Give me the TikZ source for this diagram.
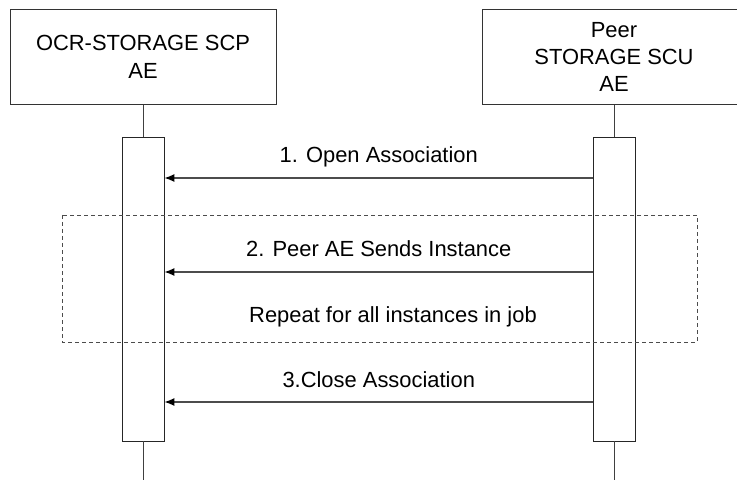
\documentclass[tikz,border=0pt]{standalone}
\usepackage{fontspec}
\setmainfont{Liberation Sans}
\usetikzlibrary{arrows.meta}
\tikzset{
  actor/.style={draw=black!80, line width=0.9bp, align=center, inner sep=0pt},
  actbar/.style={draw=black!85, line width=0.9bp, minimum width=42bp, minimum height=304bp, inner sep=0pt},
  lifeline/.style={draw=black!75, line width=0.9bp},
  msg/.style={draw=black!70, line width=1.2bp, -{Latex[length=10bp,width=8bp,black]}},
  msglabel/.style={anchor=base, inner sep=0pt},
}
\begin{document}
\begin{tikzpicture}[font=\fontsize{22}{27.5}\selectfont, x=1bp, y=-1bp]
    \clip (0,0) rectangle (737,480);
    % participants
    \node[actor, minimum width=266bp, minimum height=95bp] (scp) at (143,57) {OCR-STORAGE SCP\\AE};
    \node[actor, minimum width=264bp, minimum height=95bp] (peer) at (614,57) {Peer\\STORAGE SCU\\AE};
    % activation bars and lifelines
    \node[actbar] (scpbar) at (143,289) {};
    \node[actbar] (peerbar) at (614.5,289) {};
    \coordinate (scpend) at (143,480);
    \coordinate (peerend) at (614.5,480);
    \draw[lifeline] (scp.south) -- (scpbar.north);
    \draw[lifeline] (peer.south -| peerbar.north) -- (peerbar.north);
    \draw[lifeline] (scpbar.south) -- (scpend);
    \draw[lifeline] (peerbar.south) -- (peerend);
    % repeated part
    \draw[draw=black!70, line width=0.9bp, dash pattern=on 4bp off 3bp] (62,215) rectangle (697,342);
    \node[msglabel] (rep) at (393,322) {Repeat for all instances in job};
    % messages
    \foreach \i/\yy/\txt in {
      1/178/{1. Open Association},
      2/272/{2. Peer AE Sends Instance},
      3/402/{3.Close Association}}
      {
        \coordinate (lvl\i) at (0,\yy);
        \draw[msg] (peerbar.west |- lvl\i) -- (scpbar.east |- lvl\i)
          node[msglabel, midway, yshift=15bp] (msg\i) {\txt};
      }
  \end{tikzpicture}
\end{document}
